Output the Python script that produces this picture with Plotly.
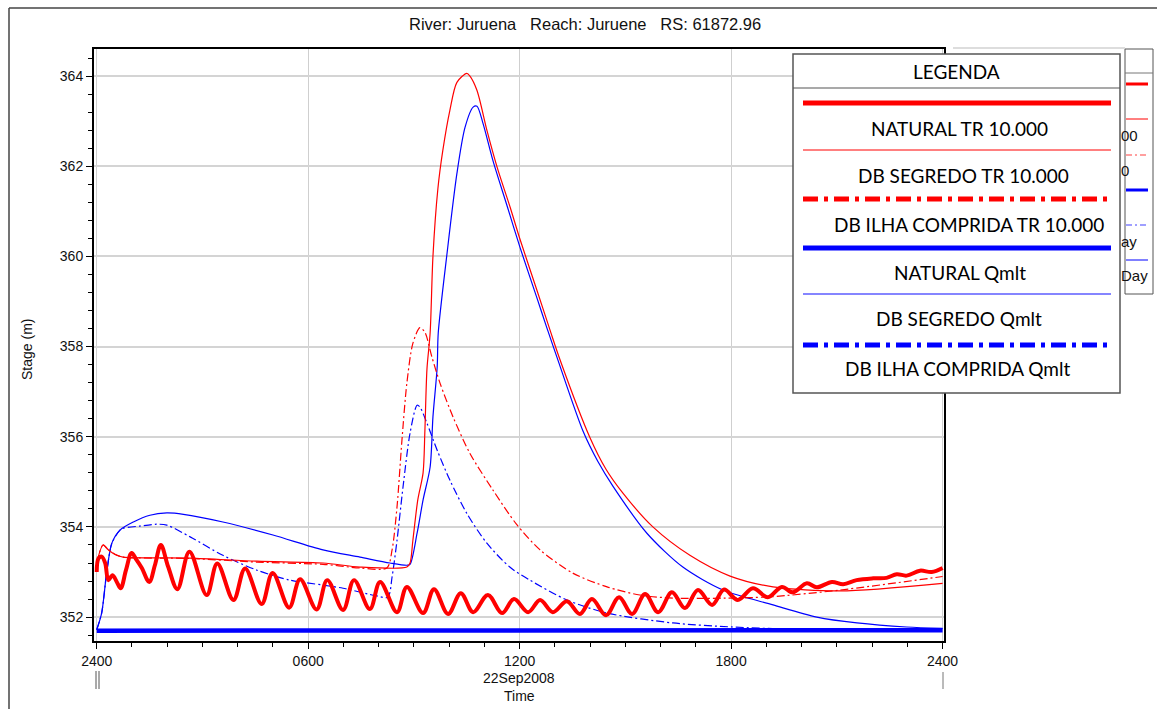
import plotly.graph_objects as go

# ---------------- data (hours after 22Sep2008 0000, stage in m) ----------------
t_nat_tr = [0.0, 0.05, 0.14, 0.24, 0.33, 0.45, 0.57, 0.68, 0.83, 0.99, 1.13, 1.28, 1.49, 1.65, 1.82,
            2.03, 2.29, 2.63, 3.12, 3.42, 3.88, 4.21, 4.68, 4.99, 5.46, 5.77, 6.24, 6.54, 6.99, 7.30,
            7.75, 8.04, 8.52, 8.80, 9.26, 9.57, 9.97, 10.33, 10.68, 11.10, 11.50, 11.84, 12.24, 12.58,
            12.94, 13.34, 13.71, 14.05, 14.45, 14.82, 15.19, 15.56, 15.93, 16.32, 16.69, 17.06, 17.46,
            17.80, 18.19, 18.62, 19.04, 19.44, 19.75, 20.15, 20.43, 20.86, 21.18, 21.56, 22.03, 22.41,
            22.70, 22.98, 23.36, 23.69, 24.0]
v_nat_tr = [353.0, 353.3, 353.34, 353.2, 352.82, 352.93, 352.78, 352.64, 353.04, 353.42, 353.27, 353.09,
            352.78, 353.15, 353.6, 353.11, 352.62, 353.45, 352.49, 353.19, 352.38, 353.08, 352.29, 352.98,
            352.21, 352.84, 352.17, 352.82, 352.16, 352.82, 352.18, 352.78, 352.11, 352.67, 352.09, 352.62,
            352.07, 352.53, 352.11, 352.49, 352.09, 352.40, 352.11, 352.38, 352.11, 352.35, 352.07, 352.40,
            352.04, 352.44, 352.07, 352.51, 352.11, 352.55, 352.20, 352.60, 352.27, 352.61, 352.38, 352.64,
            352.44, 352.67, 352.55, 352.75, 352.66, 352.78, 352.73, 352.82, 352.86, 352.87, 352.95, 352.92,
            353.03, 353.0, 353.09]

t_seg_tr = [0.0, 0.18, 0.32, 0.45, 0.58, 0.75, 2.65, 4.55, 6.42, 7.47, 8.8, 8.89, 8.97, 9.11, 9.26, 9.31,
            9.37, 9.46, 9.54, 9.68, 9.82, 10.02, 10.22, 10.5, 10.59, 10.79, 11.07, 11.36, 11.73, 12.01,
            12.49, 12.86, 13.14, 13.99, 14.45, 14.93, 15.78, 16.83, 17.97, 19.19, 21.09, 24.0]
v_seg_tr = [353.2, 353.6, 353.5, 353.42, 353.37, 353.33, 353.31, 353.24, 353.2, 353.11, 353.11, 353.2,
            353.7, 354.6, 355.2, 356.1, 357.5, 358.3, 360.0, 361.5, 362.35, 363.24, 363.86, 364.06, 364.0,
            363.68, 362.8, 361.98, 361.09, 360.38, 359.25, 358.37, 357.72, 355.99, 355.28, 354.75, 354.0,
            353.37, 352.91, 352.67, 352.58, 352.75]

t_ilha_tr = [0.0, 0.18, 0.32, 0.58, 0.75, 2.65, 4.55, 6.42, 7.47, 8.23, 8.38, 8.52, 8.66, 8.8, 8.97, 9.17,
             9.31, 9.51, 9.74, 10.11, 10.59, 11.24, 11.92, 12.58, 13.52, 14.48, 15.41, 16.35, 17.77, 19.1,
             21.09, 24.0]
v_ilha_tr = [353.2, 353.6, 353.5, 353.37, 353.33, 353.3, 353.22, 353.17, 353.09, 353.09, 353.49, 354.44,
             355.92, 357.19, 358.07, 358.42, 358.32, 357.77, 357.19, 356.44, 355.63, 354.82, 354.05, 353.49,
             352.97, 352.67, 352.49, 352.42, 352.42, 352.45, 352.6, 352.9]

t_nat_q = [0.0, 6.0, 12.0, 18.0, 24.0]
v_nat_q = [351.7, 351.7, 351.7, 351.7, 351.71]

t_seg_q = [0.0, 0.14, 0.28, 0.43, 0.66, 1.04, 1.51, 1.99, 2.46, 3.58, 5.0, 6.42, 7.47, 8.32, 8.8, 8.89,
           9.09, 9.26, 9.46, 9.54, 9.66, 9.69, 9.94, 10.22, 10.45, 10.68, 10.79, 10.96, 11.24, 11.64,
           12.01, 12.49, 12.77, 13.06, 13.8, 14.22, 14.65, 15.61, 16.63, 17.77, 19.19, 20.43, 21.57, 22.98, 24.0]
v_seg_q = [351.72, 352.09, 352.97, 353.64, 353.93, 354.11, 354.26, 354.31, 354.28, 354.11, 353.82, 353.49,
           353.33, 353.2, 353.15, 353.17, 353.86, 354.6, 355.33, 356.44, 357.54, 358.3, 360.07, 361.84,
           362.86, 363.31, 363.33, 362.95, 362.13, 361.13, 360.2, 359.08, 358.42, 357.76, 356.12, 355.45,
           354.9, 353.86, 353.11, 352.6, 352.27, 352.0, 351.87, 351.78, 351.75]

t_ilha_q = [0.0, 0.14, 0.28, 0.43, 0.66, 0.75, 1.23, 1.7, 1.99, 2.65, 3.58, 4.55, 5.48, 6.42, 6.99, 7.95,
            8.26, 8.38, 8.52, 8.69, 8.89, 9.09, 9.17, 9.37, 9.66, 10.02, 10.5, 11.07, 11.72, 12.29, 13.34,
            14.48, 16.35, 18.05, 19.95, 24.0]
v_ilha_q = [351.72, 352.09, 352.97, 353.64, 353.93, 353.97, 354.02, 354.06, 354.04, 353.78, 353.37, 353.04,
            352.82, 352.71, 352.64, 352.47, 352.44, 352.89, 353.7, 354.88, 356.08, 356.7, 356.66, 356.3,
            355.7, 355.04, 354.3, 353.64, 353.11, 352.82, 352.38, 352.09, 351.87, 351.78, 351.73, 351.72]

x_tickvals = [0, 6, 12, 18, 24]
x_ticktext = ["2400", "0600", "1200", "1800", "2400"]
legend_labels = ["NATURAL TR 10.000", "DB SEGREDO TR 10.000", "DB ILHA COMPRIDA TR 10.000",
                 "NATURAL Qmlt", "DB SEGREDO Qmlt", "DB ILHA COMPRIDA Qmlt"]
title_text = "River: Juruena   Reach: Juruene   RS: 61872.96"

# ---------------- figure ----------------
RED, BLUE = "#ff0000", "#0000ff"
DD = "8px,3px,2px,3px"

fig = go.Figure()
fig.add_trace(go.Scatter(x=t_seg_q, y=v_seg_q, mode="lines", line=dict(color=BLUE, width=1.2, shape="spline", smoothing=0.8)))
fig.add_trace(go.Scatter(x=t_ilha_q, y=v_ilha_q, mode="lines", line=dict(color=BLUE, width=1.2, dash=DD, shape="spline", smoothing=0.8)))
fig.add_trace(go.Scatter(x=t_nat_q, y=v_nat_q, mode="lines", line=dict(color=BLUE, width=4.5)))
fig.add_trace(go.Scatter(x=t_ilha_tr, y=v_ilha_tr, mode="lines", line=dict(color=RED, width=1.2, dash=DD, shape="spline", smoothing=0.8)))
fig.add_trace(go.Scatter(x=t_seg_tr, y=v_seg_tr, mode="lines", line=dict(color=RED, width=1.2, shape="spline", smoothing=0.8)))
fig.add_trace(go.Scatter(x=t_nat_tr, y=v_nat_tr, mode="lines", line=dict(color=RED, width=4, shape="spline", smoothing=1.0)))

W, H = 1157, 709
L, R, T, B = 94, 944, 49, 641


def fx(px):
    return (px - L) / (R - L)


def fy(py):
    return (B - py) / (B - T)


shapes = []
annots = []


def pline(x0, y0, x1, y1, color, width, dash="solid", layer="above"):
    shapes.append(dict(type="line", xref="paper", yref="paper", x0=fx(x0), x1=fx(x1), y0=fy(y0), y1=fy(y1),
                       line=dict(color=color, width=width, dash=dash), layer=layer))


# outer frame
pline(9, 8, 1160, 8, "#444444", 1.5)
pline(9, 8, 9, 712, "#444444", 1.5)

# date-break markers under the x axis
pline(96, 671, 96, 689, "#555555", 1)
pline(99, 671, 99, 689, "#555555", 1)
pline(943, 672, 943, 689, "#777777", 1)

# original (partially hidden) legend box
pline(953, 48, 1125, 48, "#bbbbbb", 1)
shapes.append(dict(type="rect", xref="paper", yref="paper", x0=fx(1125), x1=fx(1153), y0=fy(49), y1=fy(294),
                   line=dict(color="#555555", width=1), fillcolor="white", layer="above"))
pline(1125, 73, 1153, 73, "#777777", 1)
bg_items = [(84, RED, 3, "solid"), (119, RED, 1, "solid"), (155, "#ff8080", 1.5, "6px,3px,2px,3px"),
            (190, BLUE, 3, "solid"), (225, "#8080ff", 1.5, "6px,3px,2px,3px"), (260, BLUE, 1, "solid")]
for yy, c, w, d in bg_items:
    pline(1126, yy, 1148, yy, c, w, d)
for yy, txt in [(135, "00"), (170, "0"), (242, "ay"), (275, "Day")]:
    annots.append(dict(x=fx(1119), y=fy(yy), xref="paper", yref="paper", text=txt, showarrow=False,
                       xanchor="left", yanchor="middle", font=dict(family="Liberation Sans", size=15, color="#111")))

# LEGENDA box
shapes.append(dict(type="rect", xref="paper", yref="paper", x0=fx(793), x1=fx(1120), y0=fy(54), y1=fy(393),
                   line=dict(color="#555555", width=1.5), fillcolor="white", layer="above"))
pline(793, 88, 1120, 88, "#555555", 1.2)
LF = dict(family="Lato", size=19, color="#000000")
annots.append(dict(x=fx(956), y=fy(72), xref="paper", yref="paper", text="LEGENDA", showarrow=False,
                   xanchor="center", yanchor="middle", font=LF))
leg_lines = [(103, RED, 5, "solid"), (150, RED, 1, "solid"), (199, RED, 5, "15px,6px,4px,6px"),
             (248, BLUE, 5, "solid"), (294, "#5c5cff", 1.5, "solid"), (345, BLUE, 5, "15px,6px,4px,6px")]
for yy, c, w, d in leg_lines:
    pline(803, yy, 1111, yy, c, w, d)
leg_text_y = [129, 176, 225, 272, 318, 368]
leg_text_x = [959, 964, 969, 960, 959, 958]
for lab, yy, xx in zip(legend_labels, leg_text_y, leg_text_x):
    annots.append(dict(x=fx(xx), y=fy(yy), xref="paper", yref="paper", text=lab, showarrow=False,
                       xanchor="center", yanchor="middle", font=LF))

# title & axis extras
AF = "Liberation Sans"
annots.append(dict(x=fx(585), y=fy(24), xref="paper", yref="paper", text=title_text, showarrow=False,
                   xanchor="center", yanchor="middle", font=dict(family=AF, size=16.5, color="#111")))
annots.append(dict(x=fx(519), y=fy(678), xref="paper", yref="paper", text="22Sep2008", showarrow=False,
                   xanchor="center", yanchor="middle", font=dict(family=AF, size=14, color="#111")))
annots.append(dict(x=fx(519), y=fy(696), xref="paper", yref="paper", text="Time", showarrow=False,
                   xanchor="center", yanchor="middle", font=dict(family=AF, size=14, color="#111")))
annots.append(dict(x=fx(27), y=fy(350), xref="paper", yref="paper", text="Stage (m)", showarrow=False,
                   textangle=-90, xanchor="center", yanchor="middle", font=dict(family=AF, size=14, color="#111")))

fig.update_layout(
    width=W, height=H,
    margin=dict(l=L, r=W - R, t=T, b=H - B, pad=0),
    paper_bgcolor="white", plot_bgcolor="white",
    showlegend=False,
    shapes=shapes, annotations=annots,
    font=dict(family=AF, size=14, color="#111"),
)
fig.update_xaxes(range=[-0.077, 24.04], tickmode="array", tickvals=x_tickvals, ticktext=x_ticktext,
                 showgrid=True, gridcolor="#cfcfcf", gridwidth=1, zeroline=False,
                 showline=True, mirror=True, linecolor="black", linewidth=2,
                 ticks="outside", ticklen=6, tickcolor="black", tickfont=dict(family=AF, size=14, color="#111"),
                 minor=dict(dtick=1, tick0=0, ticks="outside", ticklen=4, tickcolor="black", showgrid=False))
fig.update_yaxes(range=[351.47, 364.6], tickmode="linear", tick0=352, dtick=2,
                 showgrid=True, gridcolor="#d4d4d4", gridwidth=1.5, zeroline=False,
                 showline=True, mirror=True, linecolor="black", linewidth=2,
                 ticks="outside", ticklen=6, tickcolor="black", tickfont=dict(family=AF, size=14, color="#111"),
                 minor=dict(dtick=0.4, tick0=352, ticks="outside", ticklen=4, tickcolor="black", showgrid=False))

fig.write_html("out.html")
